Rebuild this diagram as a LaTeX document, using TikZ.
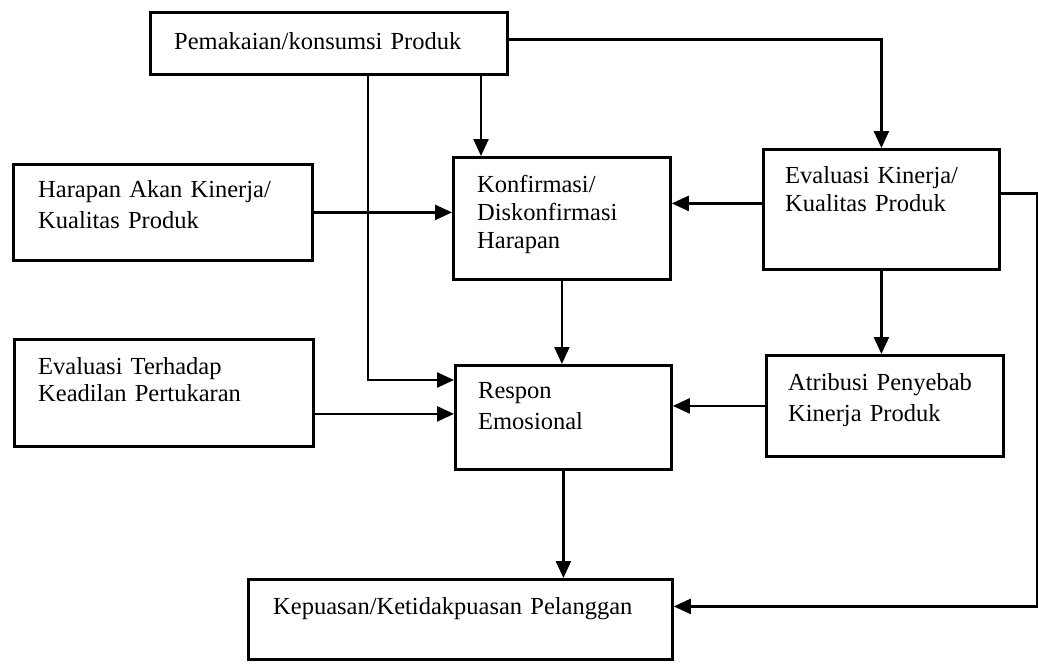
\documentclass[tikz,border=0pt]{standalone}
\usepackage{fontspec}
\setmainfont{Liberation Serif}
\usetikzlibrary{arrows.meta,calc}
\begin{document}
\begin{tikzpicture}[x=1pt,y=-1pt,
  boxnode/.style={draw, line width=2.8pt, inner sep=0pt, anchor=north west},
  lbl/.style={inner sep=0pt, anchor=base west, text width=420pt, align=left,
              font=\fontsize{24.5}{#1}\selectfont},
  lbl/.default=30,
  conn/.style={line width=2.4pt, -{Triangle[length=17pt,width=15pt]}},
]
\useasboundingbox (0,0) rectangle (1039,667);

% boxes
\node[boxnode, minimum width=357pt, minimum height=62pt]  (pem) at (149,11)  {};
\node[boxnode, minimum width=299pt, minimum height=96pt]  (har) at (12,163)  {};
\node[boxnode, minimum width=217pt, minimum height=122pt] (kon) at (452,156) {};
\node[boxnode, minimum width=236pt, minimum height=120pt] (evk) at (762,148) {};
\node[boxnode, minimum width=299pt, minimum height=107pt] (evt) at (13,338)  {};
\node[boxnode, minimum width=216pt, minimum height=104pt] (res) at (454,364) {};
\node[boxnode, minimum width=237pt, minimum height=101pt] (atr) at (765,354) {};
\node[boxnode, minimum width=424pt, minimum height=80pt]  (kep) at (247,578) {};

% texts
\node[lbl]    (tpem) at (174,49)  {Pemakaian/konsumsi Produk};
\node[lbl=31] (thar) at (38,197)  {Harapan Akan Kinerja/\\Kualitas Produk};
\node[lbl=28] (tkon) at (477,192) {Konfirmasi/\\Diskonfirmasi\\Harapan};
\node[lbl=28] (tevk) at (785,183) {Evaluasi Kinerja/\\Kualitas Produk};
\node[lbl=27] (tevt) at (38,374)  {Evaluasi Terhadap\\Keadilan Pertukaran};
\node[lbl=31] (tres) at (478,398) {Respon\\Emosional};
\node[lbl=31] (tatr) at (788,390) {Atribusi Penyebab\\Kinerja Produk};
\node[lbl]    (tkep) at (273,614) {Kepuasan/Ketidakpuasan Pelanggan};

\coordinate (rc) at (1037,0);

% connectors
\draw[conn] ([yshift=4pt]pem.east) -| (evk.north);
\draw[conn] ([xshift=29pt]kon.north west |- pem.south) -- ([xshift=29pt]kon.north west);
\draw[conn] ([xshift=219pt]pem.south west) |- ([yshift=-16pt]res.north west);
\draw[conn] (har.east) -- (har.east -| kon.west);
\draw[conn] ([yshift=6pt]evk.west) -- ([yshift=6pt]evk.west -| kon.east);
\draw[conn] (kon.south) -- (kon.south |- res.north);
\draw[conn] (evk.south) -- (evk.south |- atr.north);
\draw[conn] (atr.west) -- (atr.west -| res.east);
\draw[conn] ([yshift=-21pt]evt.east) -- ([yshift=-21pt]evt.east -| res.west);
\draw[conn] (res.south) -- (res.south |- kep.north);
\draw[conn] ([yshift=16pt]evk.east) -- ([yshift=16pt]evk.east -| rc) |- ([yshift=13pt]kep.east);
\end{tikzpicture}
\end{document}
